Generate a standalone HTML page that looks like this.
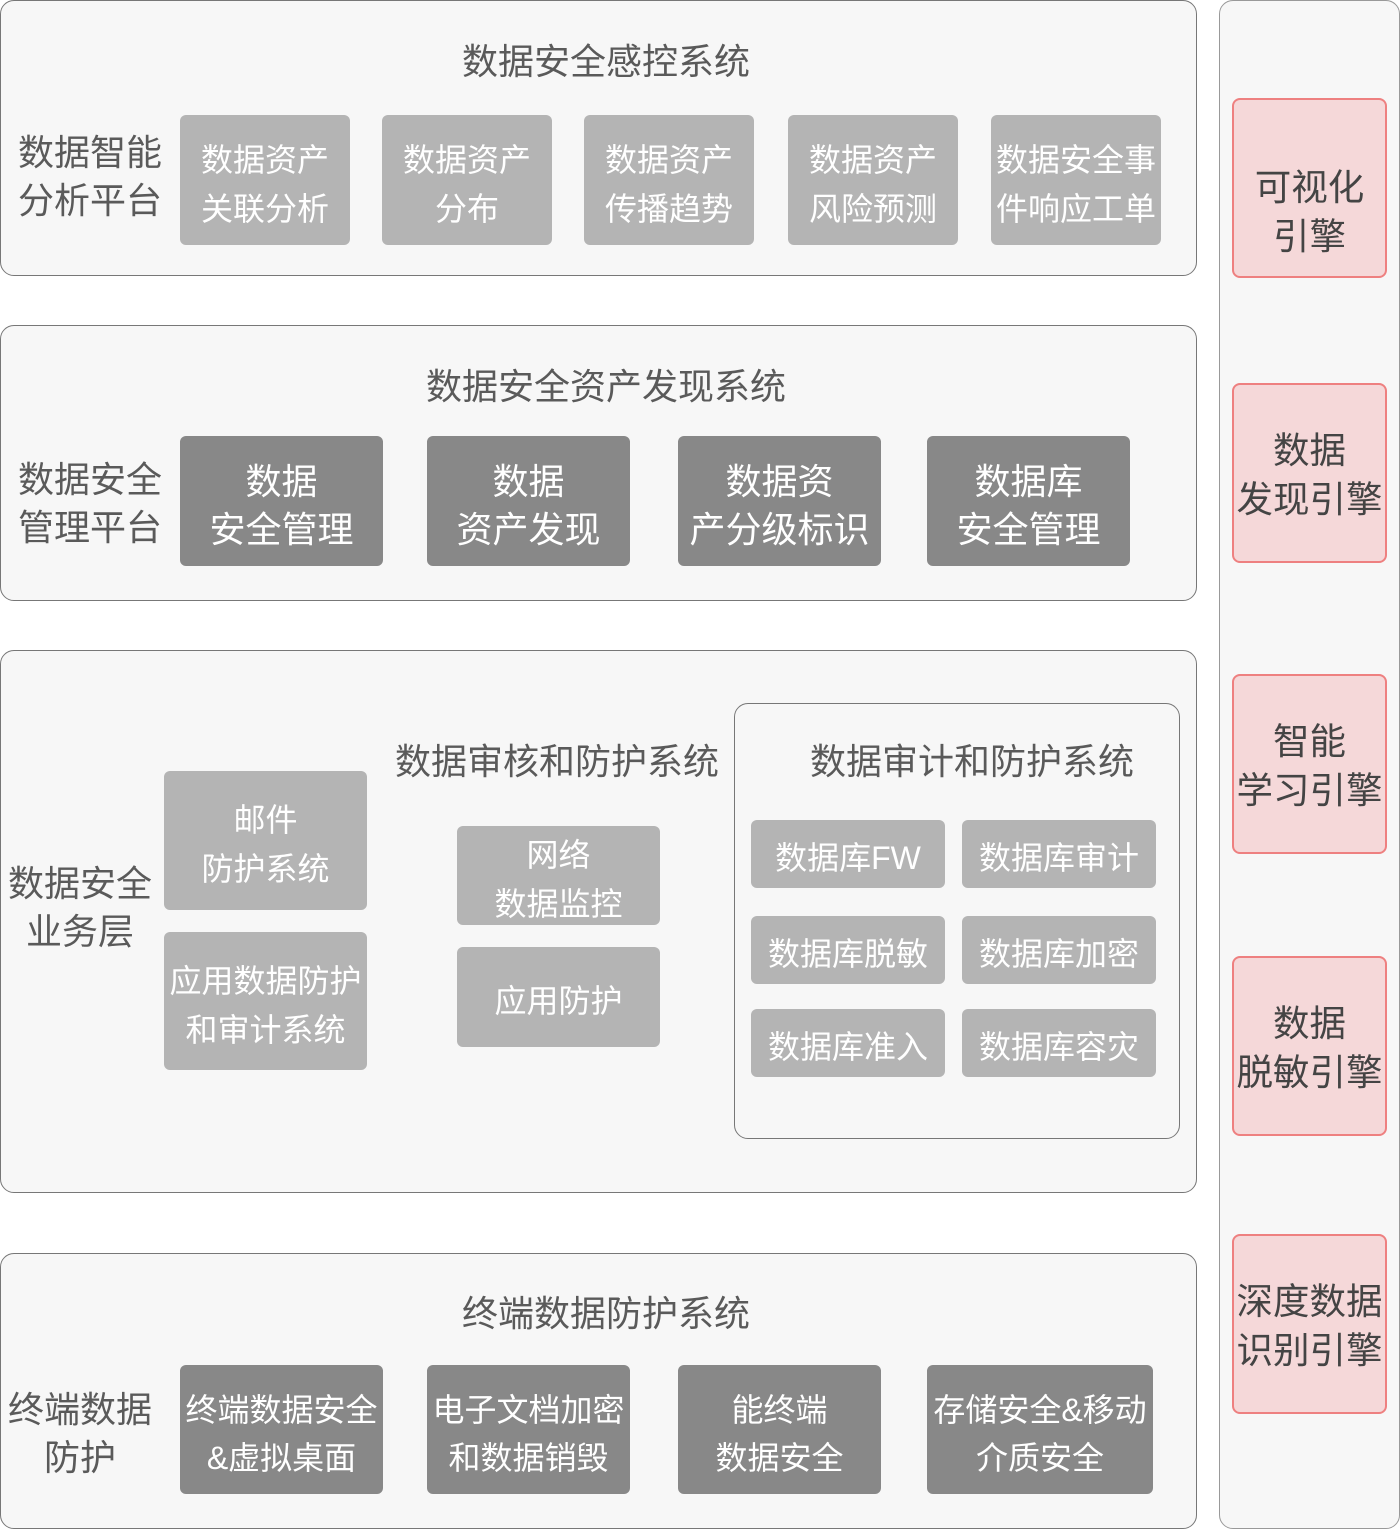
<!DOCTYPE html>
<html><head><meta charset="utf-8"><style>
body{margin:0;width:1400px;height:1530px;background:#fff;position:relative;overflow:hidden;font-family:"Liberation Sans","Noto Sans CJK SC",sans-serif}
div{position:absolute;box-sizing:border-box}
.p{background:#f7f7f7;border:1.5px solid #777;border-radius:14px}
.t{font-size:36px;color:#5a5a5a;white-space:nowrap;text-align:center;line-height:48px}
.b{display:flex;align-items:center;justify-content:center;text-align:center;color:#fff;border-radius:6px;white-space:nowrap;padding-top:9px}
.l{background:#b4b4b4;font-size:32px;line-height:49px}
.d{background:#888;font-size:36px;line-height:48px}
.s{font-size:32px}
.k{background:#f5d8d9;border:2px solid #ee8080;border-radius:8px;color:#444;font-size:36.5px;line-height:49px;display:flex;align-items:center;justify-content:center;text-align:center;padding-top:3px}
</style></head><body>
<div class="p" style="left:0;top:0;width:1197px;height:276px"></div>
<div class="p" style="left:0;top:325px;width:1197px;height:276px"></div>
<div class="p" style="left:0;top:650px;width:1197px;height:543px"></div>
<div class="p" style="left:0;top:1253px;width:1197px;height:276px"></div>
<div class="p" style="left:1219px;top:0;width:181px;height:1529px;border-color:#999"></div>
<div class="p" style="left:734px;top:703px;width:446px;height:436px"></div>

<div class="t" style="left:306px;top:38px;width:600px">数据安全感控系统</div>
<div class="t" style="left:10px;top:129px;width:160px">数据智能<br>分析平台</div>
<div class="b l" style="left:180px;top:115px;width:170px;height:130px">数据资产<br>关联分析</div>
<div class="b l" style="left:382px;top:115px;width:170px;height:130px">数据资产<br>分布</div>
<div class="b l" style="left:584px;top:115px;width:170px;height:130px">数据资产<br>传播趋势</div>
<div class="b l" style="left:788px;top:115px;width:170px;height:130px">数据资产<br>风险预测</div>
<div class="b l" style="left:991px;top:115px;width:170px;height:130px">数据安全事<br>件响应工单</div>

<div class="t" style="left:306px;top:363px;width:600px">数据安全资产发现系统</div>
<div class="t" style="left:10px;top:456px;width:160px">数据安全<br>管理平台</div>
<div class="b d" style="left:180px;top:436px;width:203px;height:130px">数据<br>安全管理</div>
<div class="b d" style="left:427px;top:436px;width:203px;height:130px">数据<br>资产发现</div>
<div class="b d" style="left:678px;top:436px;width:203px;height:130px">数据资<br>产分级标识</div>
<div class="b d" style="left:927px;top:436px;width:203px;height:130px">数据库<br>安全管理</div>

<div class="t" style="left:0;top:860px;width:160px">数据安全<br>业务层</div>
<div class="b l" style="left:164px;top:771px;width:203px;height:139px">邮件<br>防护系统</div>
<div class="b l" style="left:164px;top:932px;width:203px;height:138px">应用数据防护<br>和审计系统</div>
<div class="t" style="left:357px;top:738px;width:400px">数据审核和防护系统</div>
<div class="b l" style="left:457px;top:826px;width:203px;height:99px">网络<br>数据监控</div>
<div class="b l" style="left:457px;top:947px;width:203px;height:100px">应用防护</div>
<div class="t" style="left:772px;top:738px;width:400px">数据审计和防护系统</div>
<div class="b l" style="left:751px;top:820px;width:194px;height:68px">数据库FW</div>
<div class="b l" style="left:962px;top:820px;width:194px;height:68px">数据库审计</div>
<div class="b l" style="left:751px;top:916px;width:194px;height:68px">数据库脱敏</div>
<div class="b l" style="left:962px;top:916px;width:194px;height:68px">数据库加密</div>
<div class="b l" style="left:751px;top:1009px;width:194px;height:68px">数据库准入</div>
<div class="b l" style="left:962px;top:1009px;width:194px;height:68px">数据库容灾</div>

<div class="t" style="left:306px;top:1290px;width:600px">终端数据防护系统</div>
<div class="t" style="left:0;top:1386px;width:160px">终端数据<br>防护</div>
<div class="b d s" style="left:180px;top:1365px;width:203px;height:129px">终端数据安全<br>&amp;虚拟桌面</div>
<div class="b d s" style="left:427px;top:1365px;width:203px;height:129px">电子文档加密<br>和数据销毁</div>
<div class="b d s" style="left:678px;top:1365px;width:203px;height:129px">能终端<br>数据安全</div>
<div class="b d s" style="left:927px;top:1365px;width:226px;height:129px">存储安全&amp;移动<br>介质安全</div>

<div class="k" style="left:1232px;top:98px;width:155px;height:180px;padding-top:48px">可视化<br>引擎</div>
<div class="k" style="left:1232px;top:383px;width:155px;height:180px">数据<br>发现引擎</div>
<div class="k" style="left:1232px;top:674px;width:155px;height:180px">智能<br>学习引擎</div>
<div class="k" style="left:1232px;top:956px;width:155px;height:180px">数据<br>脱敏引擎</div>
<div class="k" style="left:1232px;top:1234px;width:155px;height:180px">深度数据<br>识别引擎</div>
</body></html>
